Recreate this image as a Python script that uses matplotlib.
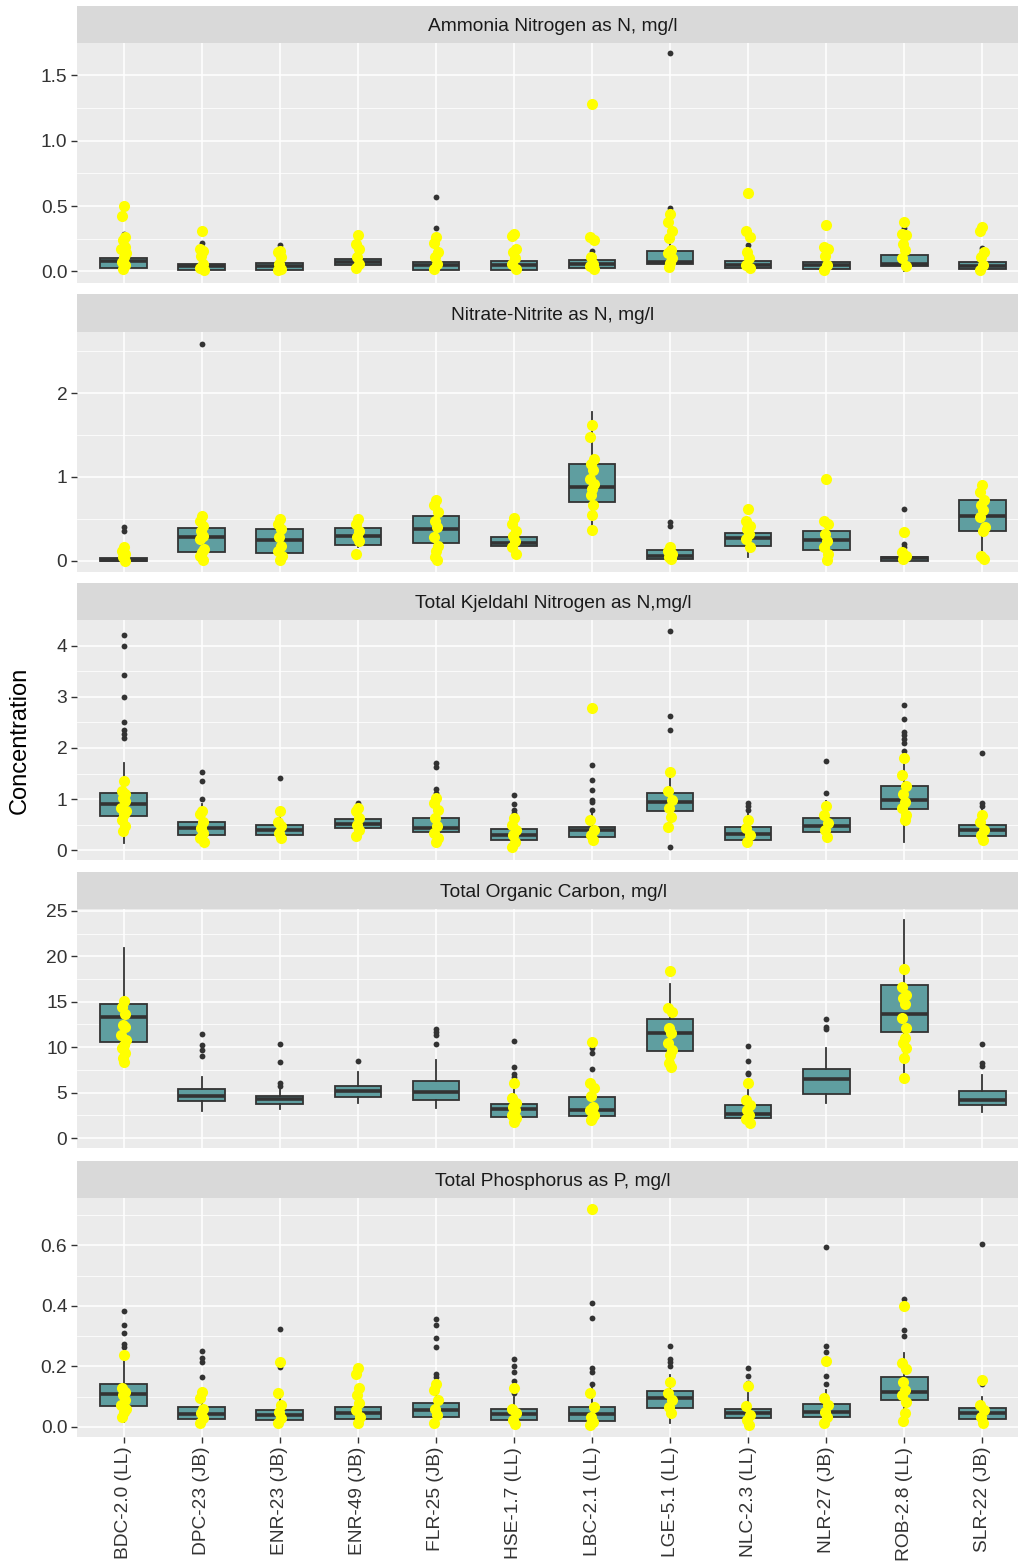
import matplotlib
matplotlib.use("Agg")
from matplotlib import pyplot as plt

plt.rcParams["font.family"] = ["Liberation Sans", "DejaVu Sans"]

sites = ["BDC-2.0 (LL)", "DPC-23 (JB)", "ENR-23 (JB)", "ENR-49 (JB)", "FLR-25 (JB)",
         "HSE-1.7 (LL)", "LBC-2.1 (LL)", "LGE-5.1 (LL)", "NLC-2.3 (LL)", "NLR-27 (JB)",
         "ROB-2.8 (LL)", "SLR-22 (JB)"]

titles = ["Ammonia Nitrogen as N, mg/l", "Nitrate-Nitrite as N, mg/l",
          "Total Kjeldahl Nitrogen as N,mg/l", "Total Organic Carbon, mg/l",
          "Total Phosphorus as P, mg/l"]

# box stats per site: whisker low, q1, median, q3, whisker high
nh3_box = [[0.0, 0.026, 0.077, 0.10, 0.20], [0.0, 0.013, 0.04, 0.06, 0.12],
           [0.0, 0.013, 0.04, 0.065, 0.13], [0.01, 0.046, 0.07, 0.094, 0.14],
           [0.0, 0.015, 0.05, 0.07, 0.17], [0.0, 0.015, 0.05, 0.077, 0.15],
           [0.0, 0.03, 0.06, 0.084, 0.14], [0.0, 0.056, 0.074, 0.16, 0.30],
           [0.0, 0.026, 0.05, 0.077, 0.13], [0.0, 0.018, 0.05, 0.074, 0.14],
           [0.0, 0.043, 0.06, 0.125, 0.24], [0.0, 0.018, 0.04, 0.069, 0.14]]
nh3_out = [[0.29], [0.22], [0.20], [], [0.57, 0.33], [], [0.16], [1.666, 0.485],
           [0.20], [], [0.33], [0.18]]
nh3_new = [[0.50, 0.42, 0.26, 0.24, 0.19, 0.17, 0.14, 0.11, 0.07, 0.05, 0.02],
           [0.31, 0.17, 0.16, 0.12, 0.06, 0.03, 0.01],
           [0.16, 0.15, 0.11, 0.06, 0.02, 0.01],
           [0.28, 0.21, 0.17, 0.11, 0.06, 0.03],
           [0.26, 0.22, 0.15, 0.11, 0.06, 0.02],
           [0.29, 0.27, 0.17, 0.15, 0.10, 0.06, 0.02],
           [1.28, 0.26, 0.24, 0.11, 0.06, 0.04, 0.02],
           [0.44, 0.375, 0.31, 0.255, 0.166, 0.14, 0.10, 0.064, 0.038],
           [0.60, 0.31, 0.26, 0.15, 0.10, 0.05, 0.03],
           [0.355, 0.19, 0.17, 0.115, 0.05, 0.01],
           [0.38, 0.29, 0.275, 0.21, 0.166, 0.10, 0.04],
           [0.34, 0.31, 0.15, 0.107, 0.05, 0.013]]

no3_box = [[0.0, 0.0, 0.015, 0.03, 0.07], [0.0, 0.107, 0.28, 0.386, 0.55],
           [0.0, 0.095, 0.25, 0.374, 0.50], [0.16, 0.187, 0.29, 0.386, 0.50],
           [0.0, 0.21, 0.385, 0.53, 0.72], [0.07, 0.175, 0.21, 0.28, 0.50],
           [0.37, 0.696, 0.88, 1.156, 1.776], [0.0, 0.016, 0.06, 0.124, 0.20],
           [0.04, 0.176, 0.27, 0.336, 0.50], [0.0, 0.128, 0.25, 0.35, 0.48],
           [0.0, 0.0, 0.03, 0.05, 0.10], [0.0, 0.352, 0.53, 0.72, 0.93]]
no3_out = [[0.40, 0.36, 0.17], [2.59], [], [], [], [], [], [0.46, 0.42], [], [],
           [0.62, 0.20, 0.16], []]
no3_new = [[0.16, 0.12, 0.08, 0.04, 0.0],
           [0.54, 0.48, 0.42, 0.36, 0.30, 0.26, 0.14, 0.10, 0.06, 0.01],
           [0.50, 0.44, 0.38, 0.28, 0.18, 0.12, 0.06, 0.01],
           [0.50, 0.44, 0.36, 0.28, 0.24, 0.08],
           [0.72, 0.66, 0.58, 0.48, 0.40, 0.28, 0.18, 0.12, 0.04, 0.01],
           [0.51, 0.44, 0.36, 0.30, 0.24, 0.16, 0.08],
           [1.62, 1.48, 1.22, 1.16, 1.08, 0.98, 0.92, 0.86, 0.78, 0.66, 0.55, 0.37],
           [0.16, 0.12, 0.08, 0.04, 0.016],
           [0.62, 0.48, 0.42, 0.38, 0.32, 0.26, 0.16],
           [0.98, 0.48, 0.44, 0.32, 0.24, 0.16, 0.08, 0.01],
           [0.34, 0.10, 0.06, 0.02],
           [0.90, 0.82, 0.72, 0.66, 0.60, 0.52, 0.40, 0.36, 0.06, 0.02]]

tkn_box = [[0.14, 0.663, 0.906, 1.117, 1.70], [0.17, 0.30, 0.43, 0.56, 0.90],
           [0.20, 0.30, 0.39, 0.49, 0.75], [0.25, 0.43, 0.52, 0.62, 0.90],
           [0.15, 0.35, 0.43, 0.63, 1.05], [0.05, 0.20, 0.30, 0.41, 0.70],
           [0.15, 0.26, 0.39, 0.46, 0.75], [0.46, 0.77, 0.94, 1.12, 1.50],
           [0.14, 0.20, 0.32, 0.45, 0.75], [0.25, 0.36, 0.47, 0.64, 0.97],
           [0.16, 0.80, 0.98, 1.25, 1.90], [0.20, 0.28, 0.39, 0.50, 0.80]]
tkn_out = [[4.21, 4.0, 3.43, 3.0, 2.5, 2.36, 2.27, 2.19], [1.52, 1.35, 1.01], [1.42],
           [0.93], [1.70, 1.62, 1.19, 1.12], [1.08, 0.91, 0.78, 0.73],
           [1.66, 1.37, 1.17, 0.99, 0.95, 0.78], [4.28, 2.63, 2.35, 0.06],
           [0.92, 0.86, 0.79], [1.74, 1.11],
           [2.84, 2.56, 2.32, 2.26, 2.17, 2.09, 1.94], [1.91, 0.92, 0.86]]
tkn_new = [[1.35, 1.16, 1.09, 1.02, 0.96, 0.83, 0.76, 0.70, 0.60, 0.47, 0.37],
           [0.76, 0.70, 0.56, 0.43, 0.33, 0.24, 0.17],
           [0.76, 0.56, 0.47, 0.33, 0.24],
           [0.83, 0.76, 0.63, 0.50, 0.40, 0.27],
           [1.02, 0.93, 0.78, 0.63, 0.47, 0.33, 0.24, 0.17],
           [0.63, 0.50, 0.40, 0.30, 0.17, 0.07],
           [2.78, 0.59, 0.39, 0.30, 0.20],
           [1.53, 1.15, 0.99, 0.82, 0.66, 0.46],
           [0.59, 0.43, 0.30, 0.16],
           [0.86, 0.69, 0.53, 0.39, 0.26],
           [1.80, 1.48, 1.25, 1.09, 0.95, 0.82, 0.69, 0.59],
           [0.69, 0.56, 0.39, 0.30, 0.20]]

toc_box = [[8.03, 10.6, 13.34, 14.74, 20.93], [3.0, 4.1, 4.66, 5.43, 6.67],
           [3.15, 3.74, 4.29, 4.58, 5.46], [3.8, 4.5, 5.2, 5.72, 7.3],
           [3.26, 4.2, 5.1, 6.27, 8.58], [1.43, 2.35, 3.15, 3.74, 5.46],
           [1.6, 2.46, 3.08, 4.47, 5.6], [7.84, 9.6, 11.58, 13.1, 16.9],
           [1.43, 2.16, 2.6, 3.59, 5.28], [3.8, 4.8, 6.45, 7.58, 9.86],
           [6.56, 11.62, 13.7, 16.83, 23.97], [2.9, 3.63, 4.18, 5.17, 6.93]]
toc_out = [[], [11.4, 10.2, 9.7, 9.0], [10.37, 8.32, 6.0, 5.75], [8.43],
           [11.95, 11.7, 11.33, 10.3], [10.7, 7.77, 7.04, 6.74], [9.9, 9.4, 7.6], [],
           [10.1, 8.47, 7.2, 7.04], [13.05, 12.24, 11.95], [], [10.3, 8.28, 7.92]]
toc_new = [[15.1, 14.4, 13.7, 12.4, 12.2, 11.3, 10.8, 10.2, 9.9, 9.3, 8.8, 8.4],
           [], [], [], [],
           [6.0, 4.36, 3.8, 3.45, 3.08, 2.53, 2.16, 1.8],
           [10.6, 6.1, 5.5, 4.6, 3.45, 3.08, 2.53, 2.16, 1.98],
           [18.4, 14.26, 13.9, 12.06, 11.5, 10.4, 9.68, 9.13, 8.2, 7.84],
           [6.08, 4.18, 3.63, 3.08, 2.53, 2.05, 1.69],
           [],
           [18.55, 16.57, 15.7, 15.36, 14.8, 13.16, 12.06, 10.96, 10.4, 9.86, 8.76, 6.56],
           []]

tp_box = [[0.017, 0.068, 0.107, 0.142, 0.23], [0.0, 0.024, 0.042, 0.064, 0.12],
          [0.0, 0.022, 0.039, 0.057, 0.11], [0.0, 0.026, 0.044, 0.064, 0.12],
          [0.01, 0.032, 0.057, 0.078, 0.15], [0.0, 0.023, 0.041, 0.058, 0.10],
          [0.0, 0.019, 0.042, 0.065, 0.13], [0.011, 0.061, 0.095, 0.118, 0.17],
          [0.0, 0.028, 0.044, 0.06, 0.11], [0.0, 0.033, 0.05, 0.074, 0.12],
          [0.02, 0.088, 0.116, 0.164, 0.243], [0.0, 0.026, 0.046, 0.062, 0.10]]
tp_out = [[0.382, 0.337, 0.31, 0.275, 0.264], [0.25, 0.226, 0.215, 0.165],
          [0.323, 0.198], [0.132], [0.358, 0.336, 0.294, 0.264, 0.176, 0.165],
          [0.224, 0.20, 0.18, 0.152, 0.11], [0.41, 0.36, 0.196, 0.182, 0.141],
          [0.267, 0.224, 0.215, 0.20], [0.193, 0.168, 0.146],
          [0.595, 0.268, 0.246, 0.168, 0.141], [0.423, 0.32, 0.301], [0.605, 0.141]]
tp_new = [[0.237, 0.127, 0.116, 0.105, 0.088, 0.072, 0.06, 0.05, 0.033],
          [0.116, 0.094, 0.06, 0.044, 0.028, 0.011],
          [0.215, 0.112, 0.072, 0.05, 0.028, 0.011],
          [0.193, 0.176, 0.127, 0.105, 0.077, 0.055, 0.033, 0.011],
          [0.143, 0.123, 0.088, 0.06, 0.039, 0.011],
          [0.127, 0.06, 0.044, 0.022, 0.008],
          [0.72, 0.11, 0.066, 0.033, 0.017, 0.006],
          [0.149, 0.11, 0.088, 0.066, 0.046],
          [0.136, 0.068, 0.039, 0.022, 0.006],
          [0.218, 0.094, 0.072, 0.05, 0.033, 0.011],
          [0.40, 0.21, 0.19, 0.149, 0.121, 0.105, 0.083, 0.044, 0.019],
          [0.154, 0.072, 0.055, 0.033, 0.011]]

boxes = [nh3_box, no3_box, tkn_box, toc_box, tp_box]
outs = [nh3_out, no3_out, tkn_out, toc_out, tp_out]
news = [nh3_new, no3_new, tkn_new, toc_new, tp_new]

ylims = [(-0.088, 1.745), (-0.134, 2.73), (-0.19, 4.5), (-1.1, 25.2), (-0.034, 0.757)]
yticks = [[0, 0.5, 1.0, 1.5], [0, 1, 2], [0, 1, 2, 3, 4], [0, 5, 10, 15, 20, 25],
          [0, 0.2, 0.4, 0.6]]
yticklabels = [["0.0", "0.5", "1.0", "1.5"], ["0", "1", "2"], ["0", "1", "2", "3", "4"],
               ["0", "5", "10", "15", "20", "25"], ["0.0", "0.2", "0.4", "0.6"]]

# pixel layout: (strip top, plot top, plot bottom)
rows = [(6, 43, 283), (294, 332, 572), (583, 620, 860), (872, 909, 1148), (1161, 1198, 1437)]
W, H = 1018, 1566
left_px, right_px = 77, 1029

fig = plt.figure(figsize=(W / 100, H / 100), dpi=100)


def px_axes(left, top, right, bottom):
    return fig.add_axes([left / W, 1 - bottom / H, (right - left) / W, (bottom - top) / H])


jitter = [0.0, -0.025, 0.02, -0.012, 0.012, -0.03, 0.03, 0.005, -0.018, 0.018, -0.005]
pos = list(range(1, 13))

for k in range(5):
    s_top, p_top, p_bot = rows[k]

    strip = px_axes(left_px, s_top, right_px, p_top)
    strip.set_facecolor("#D9D9D9")
    strip.set_xticks([])
    strip.set_yticks([])
    for sp in strip.spines.values():
        sp.set_visible(False)
    strip.text(0.5, 0.44, titles[k], transform=strip.transAxes, ha="center", va="center",
               fontsize=13.8, color="#1A1A1A")

    ax = px_axes(left_px, p_top, right_px, p_bot)
    ax.set_facecolor("#EBEBEB")
    for sp in ax.spines.values():
        sp.set_visible(False)
    ax.set_xlim(0.4, 12.6)
    ax.set_ylim(*ylims[k])
    ax.set_yticks(yticks[k])
    ax.set_yticklabels(yticklabels[k])
    minor = [(a + b) / 2 for a, b in zip(yticks[k][:-1], yticks[k][1:])]
    minor.append(yticks[k][-1] + (yticks[k][1] - yticks[k][0]) / 2)
    minor = [m for m in minor if m < ylims[k][1]]
    ax.set_yticks(minor, minor=True)
    ax.set_xticks(pos)
    ax.grid(True, which="major", color="white", linewidth=1.1)
    ax.grid(True, which="minor", axis="y", color="white", linewidth=0.55)
    ax.set_axisbelow(True)
    ax.tick_params(axis="y", which="major", length=4, width=1.0, color="#333333",
                   labelsize=13.8, labelcolor="#333333", pad=3)
    ax.tick_params(axis="y", which="minor", length=0)

    stats = []
    for b, o in zip(boxes[k], outs[k]):
        stats.append({"whislo": b[0], "q1": b[1], "med": b[2], "q3": b[3],
                      "whishi": b[4], "fliers": o})
    ax.bxp(stats, positions=pos, widths=0.6, patch_artist=True, showcaps=False,
           boxprops=dict(facecolor="#5F9EA0", edgecolor="#333333", linewidth=1.3),
           medianprops=dict(color="#333333", linewidth=2.6),
           whiskerprops=dict(color="#333333", linewidth=1.3),
           flierprops=dict(marker="o", markerfacecolor="#333333",
                           markeredgecolor="none", markersize=4.2),
           manage_ticks=False)

    for i, vals in enumerate(news[k]):
        xs = [pos[i] + jitter[j % len(jitter)] for j in range(len(vals))]
        ax.plot(xs, vals, "o", color="#FFFF00", markersize=8, markeredgewidth=0,
                zorder=5)

    if k == 4:
        ax.set_xticklabels(sites, rotation=90, fontsize=13.8, color="#333333")
        ax.tick_params(axis="x", length=4, width=1.0, color="#333333", pad=3)
    else:
        ax.tick_params(axis="x", length=0, labelbottom=False)

fig.text(20 / W, 1 - 740 / H, "Concentration", rotation=90, ha="center", va="center",
         fontsize=17, color="black")

fig.savefig("out.png", dpi=100)
